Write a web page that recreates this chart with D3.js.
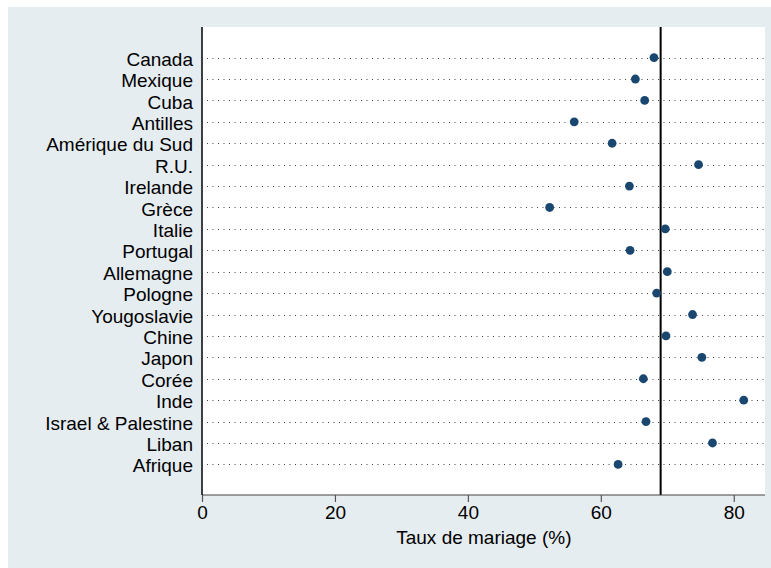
<!DOCTYPE html>
<html>
<head>
<meta charset="utf-8">
<script src="https://cdn.jsdelivr.net/npm/d3@7"></script>
<style>
  html, body { margin: 0; padding: 0; background: #ffffff; }
  svg { display: block; }
  text { font-family: "Liberation Sans", Arial, sans-serif; }
</style>
</head>
<body>
<svg id="chart" width="771" height="568"></svg>
<script>
const categories = ["Canada", "Mexique", "Cuba", "Antilles", "Amérique du Sud", "R.U.", "Irelande",
  "Grèce", "Italie", "Portugal", "Allemagne", "Pologne", "Yougoslavie", "Chine", "Japon", "Corée",
  "Inde", "Israel & Palestine", "Liban", "Afrique"];
const values = [68.0, 65.2, 66.6, 56.0, 61.7, 74.7, 64.3,
  52.3, 69.7, 64.4, 70.0, 68.4, 73.8, 69.8, 75.2, 66.4,
  81.5, 66.8, 76.8, 62.6];
const referenceValue = [69.0];
const xTicks = [0, 20, 40, 60, 80];
const xTitle = ["Taux de mariage (%)"];
const xDomain = [0, 84.7];

const svg = d3.select("#chart");
const W = 771, H = 568;
const plot = { left: 202, right: 765, top: 27, bottom: 495 };

// outer graph region
svg.append("rect").attr("x", 8).attr("y", 7).attr("width", W - 8).attr("height", H - 7)
  .attr("fill", "#e6edf1");
// plot region
svg.append("rect").attr("x", plot.left).attr("y", plot.top)
  .attr("width", plot.right - plot.left).attr("height", plot.bottom - plot.top)
  .attr("fill", "#ffffff");

const x = d3.scaleLinear().domain(xDomain).range([plot.left, plot.right]);
const y = d3.scalePoint().domain(categories).range([plot.top, plot.bottom]).padding(1.43);

// dotted row lines
svg.append("g").selectAll("line").data(categories).join("line")
  .attr("x1", plot.left + 5).attr("x2", plot.right)
  .attr("y1", d => Math.round(y(d)) + 0.5).attr("y2", d => Math.round(y(d)) + 0.5)
  .attr("stroke", "#444").attr("stroke-width", 1)
  .attr("stroke-dasharray", "1,4.5");

// reference line
svg.append("g").selectAll("line").data(referenceValue).join("line")
  .attr("x1", d => x(d)).attr("x2", d => x(d))
  .attr("y1", plot.top).attr("y2", plot.bottom)
  .attr("stroke", "#000").attr("stroke-width", 2);

// x axis
const xAxis = d3.axisBottom(x).tickValues(xTicks).tickSize(7).tickPadding(4).tickFormat(d3.format("d"));
const gx = svg.append("g").attr("transform", `translate(0,${plot.bottom})`).call(xAxis);
gx.select(".domain").attr("stroke", "#444").attr("stroke-width", 1.2)
  .attr("d", `M${plot.left},0H${plot.right}`);
gx.selectAll(".tick line").attr("stroke", "#555").attr("stroke-width", 1.2);
gx.selectAll(".tick text").attr("fill", "#000").attr("font-size", 19)
  .attr("font-family", "'Liberation Sans', Arial, sans-serif");

// y axis (labels, no ticks)
const yAxis = d3.axisLeft(y).tickSize(0).tickPadding(9);
const gy = svg.append("g").attr("transform", `translate(${plot.left},0)`).call(yAxis);
gy.select(".domain").attr("stroke", "#000").attr("stroke-width", 1.5)
  .attr("d", `M0,${plot.top}V${plot.bottom}`);
gy.selectAll(".tick text").attr("fill", "#000").attr("font-size", 19)
  .attr("dy", "0.4em")
  .attr("font-family", "'Liberation Sans', Arial, sans-serif");

// x title
svg.append("text").data(xTitle)
  .attr("x", (x(0) + x(80)) / 2 + 16).attr("y", 544)
  .attr("text-anchor", "middle").attr("font-size", 19).attr("fill", "#000")
  .text(d => d);

// markers
svg.append("g").selectAll("circle").data(categories).join("circle")
  .attr("cx", (d, i) => x(values[i]))
  .attr("cy", d => y(d))
  .attr("r", 4.4)
  .attr("fill", "#1a476f");
</script>
</body>
</html>
